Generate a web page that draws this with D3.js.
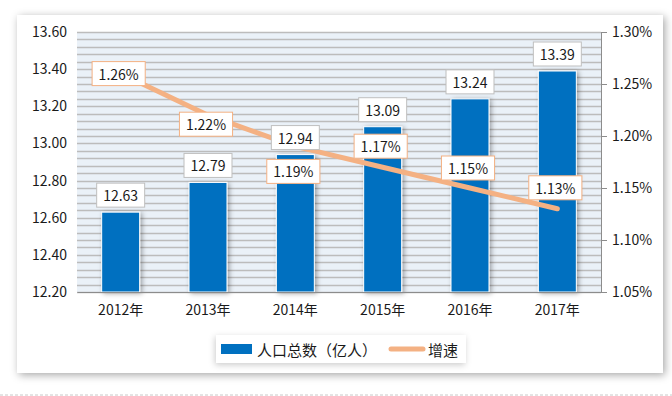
<!DOCTYPE html>
<html lang="zh">
<head>
<meta charset="UTF-8" />
<title>人口总数及增速</title>
<script src="https://d3js.org/d3.v7.min.js"></script>
<style>
  body { margin: 0; background: #fff; }
  svg { display: block; font-family: "Noto Sans CJK SC", "Noto Sans", sans-serif; }
</style>
</head>
<body>
<script>
  // data
  var years = ["2012年", "2013年", "2014年", "2015年", "2016年", "2017年"];
  var population = [12.63, 12.79, 12.94, 13.09, 13.24, 13.39];
  var growth = [1.26, 1.22, 1.19, 1.17, 1.15, 1.13];
  var leftTicks = [12.20, 12.40, 12.60, 12.80, 13.00, 13.20, 13.40, 13.60];
  var rightTicks = [1.05, 1.10, 1.15, 1.20, 1.25, 1.30];

  // vertical nudge of growth labels so they don't collide (px)
  var growthLabelDy = [0, 9, 25, -21, -20, -21];

  var w = 672, h = 396;
  var plotL = 77, plotR = 601, plotT = 32, plotB = 292;

  var svg = d3.select("body").append("svg")
      .attr("width", w)
      .attr("height", h);

  var defs = svg.append("defs");
  var f1 = defs.append("filter").attr("id", "card").attr("x", "-10%").attr("y", "-10%").attr("width", "120%").attr("height", "120%");
  f1.append("feDropShadow").attr("dx", 2).attr("dy", 2).attr("stdDeviation", 4).attr("flood-color", "#000").attr("flood-opacity", 0.35);
  var f2 = defs.append("filter").attr("id", "barsh").attr("x", "-30%").attr("y", "-10%").attr("width", "160%").attr("height", "120%");
  f2.append("feDropShadow").attr("dx", 2).attr("dy", 1).attr("stdDeviation", 2.5).attr("flood-color", "#000").attr("flood-opacity", 0.35);
  var f3 = defs.append("filter").attr("id", "legsh").attr("x", "-10%").attr("y", "-30%").attr("width", "120%").attr("height", "160%");
  f3.append("feDropShadow").attr("dx", -1).attr("dy", 2).attr("stdDeviation", 3).attr("flood-color", "#000").attr("flood-opacity", 0.2);

  // card
  svg.append("rect")
      .attr("x", 17).attr("y", 15)
      .attr("width", 646).attr("height", 358)
      .attr("fill", "#fff")
      .attr("filter", "url(#card)");

  svg.append("line")
      .attr("x1", 0).attr("x2", w).attr("y1", 395).attr("y2", 395)
      .attr("stroke", "#c8c8c8").attr("stroke-dasharray", "3,2");

  // scales
  var x = d3.scaleBand().domain(years).range([plotL, plotR]).paddingInner(0.565).paddingOuter(0.2825);
  var y = d3.scaleLinear().domain([12.2, 13.6]).range([plotB, plotT]);
  var y2 = d3.scaleLinear().domain([1.05, 1.30]).range([plotB, plotT]);

  // plot background + grid
  svg.append("rect")
      .attr("x", plotL).attr("y", plotT)
      .attr("width", plotR - plotL).attr("height", plotB - plotT)
      .attr("fill", "#eaf1f8");

  var grid = d3.range(12.2, 13.6001, 0.04);
  svg.append("g").selectAll("line")
      .data(grid)
      .enter().append("line")
      .attr("x1", plotL).attr("x2", plotR)
      .attr("y1", function(d) { return Math.round(y(d)) + 0.5; })
      .attr("y2", function(d) { return Math.round(y(d)) + 0.5; })
      .attr("stroke", "#bcbcbc")
      .attr("stroke-width", 1.4);

  // bars
  svg.append("g").selectAll("rect")
      .data(population)
      .enter().append("rect")
      .attr("x", function(d, i) { return x(years[i]); })
      .attr("y", function(d) { return y(d); })
      .attr("width", x.bandwidth())
      .attr("height", function(d) { return plotB - y(d); })
      .attr("fill", "#0070c0")
      .attr("stroke", "#fff")
      .attr("stroke-width", 1)
      .attr("filter", "url(#barsh)");

  // axes
  var yAxis = d3.axisLeft(y).tickValues(leftTicks).tickSize(0).tickPadding(10)
      .tickFormat(d3.format(".2f"));
  var gy = svg.append("g").attr("transform", "translate(" + plotL + ",0)").call(yAxis);
  gy.select(".domain").remove();

  var y2Axis = d3.axisRight(y2).tickValues(rightTicks).tickSize(6).tickPadding(5)
      .tickFormat(function(d) { return d.toFixed(2) + "%"; });
  var gy2 = svg.append("g").attr("transform", "translate(" + plotR + ",0)").call(y2Axis);
  gy2.select(".domain").attr("stroke", "#8c8c8c");
  gy2.selectAll(".tick line").attr("stroke", "#8c8c8c");

  var xAxis = d3.axisBottom(x).tickSize(0).tickPadding(13);
  var gx = svg.append("g").attr("transform", "translate(0," + plotB + ")").call(xAxis);
  gx.select(".domain").attr("stroke", "#8c8c8c").attr("stroke-width", 1.2);

  svg.selectAll(".tick text")
      .attr("font-size", 14)
      .attr("fill", "#1a1a1a")
      .style("font-family", "'Noto Sans CJK SC', sans-serif");

  // growth line
  var line = d3.line()
      .x(function(d, i) { return x(years[i]) + x.bandwidth() / 2; })
      .y(function(d) { return y2(d); });

  svg.append("path")
      .datum(growth)
      .attr("d", line)
      .attr("fill", "none")
      .attr("stroke", "#f4b183")
      .attr("stroke-width", 5)
      .attr("stroke-linecap", "round")
      .attr("stroke-linejoin", "round");

  // labels
  function boxLabel(g, cx, cy, txt, border) {
    var t = g.append("text")
        .attr("x", cx).attr("y", cy)
        .attr("text-anchor", "middle")
        .attr("dominant-baseline", "central")
        .attr("font-size", 14)
        .attr("fill", "#1a1a1a")
        .text(txt);
    var tw = t.node().getComputedTextLength();
    g.insert("rect", "text")
        .attr("x", cx - tw / 2 - 6.5)
        .attr("y", cy - 12)
        .attr("width", tw + 13)
        .attr("height", 24)
        .attr("fill", "#fff")
        .attr("stroke", border)
        .attr("stroke-width", 1);
  }

  population.forEach(function(d, i) {
    var g = svg.append("g");
    boxLabel(g, x(years[i]) + x.bandwidth() / 2, y(d) - 17, d.toFixed(2), "#bfbfbf");
  });

  growth.forEach(function(d, i) {
    var g = svg.append("g");
    boxLabel(g, x(years[i]) + x.bandwidth() / 2 - 2, y2(d) + growthLabelDy[i], d.toFixed(2) + "%", "#f4b183");
  });

  // legend
  var lg = svg.append("g");
  lg.append("rect")
      .attr("x", 216).attr("y", 335)
      .attr("width", 250).attr("height", 28)
      .attr("fill", "#fff")
      .attr("filter", "url(#legsh)");
  lg.append("rect")
      .attr("x", 221).attr("y", 344)
      .attr("width", 31).attr("height", 10)
      .attr("fill", "#0070c0");
  lg.append("text")
      .attr("x", 257).attr("y", 349)
      .attr("dominant-baseline", "central")
      .attr("font-size", 15)
      .attr("fill", "#1a1a1a")
      .text("人口总数（亿人）");
  lg.append("line")
      .attr("x1", 391).attr("x2", 423).attr("y1", 349).attr("y2", 349)
      .attr("stroke", "#f4b183")
      .attr("stroke-width", 5)
      .attr("stroke-linecap", "round");
  lg.append("text")
      .attr("x", 428).attr("y", 349)
      .attr("dominant-baseline", "central")
      .attr("font-size", 15)
      .attr("fill", "#1a1a1a")
      .text("增速");
</script>
</body>
</html>
